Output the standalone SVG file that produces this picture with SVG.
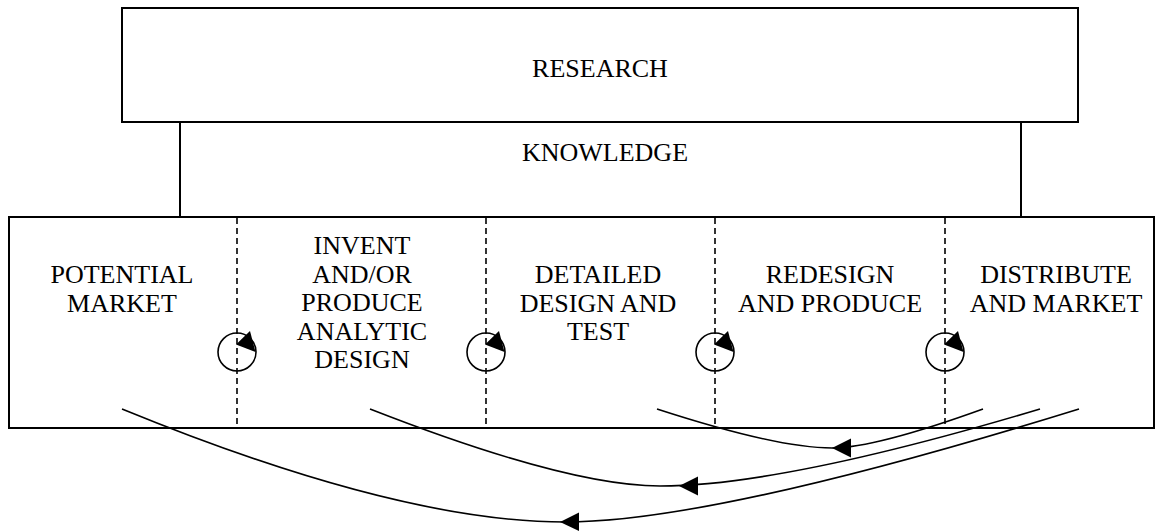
<svg xmlns="http://www.w3.org/2000/svg" width="1160" height="531" viewBox="0 0 1160 531">
<style>
.box{fill:#fff;stroke:#000;stroke-width:2}
.dash{stroke:#000;stroke-width:1.6;stroke-dasharray:6 4;fill:none}
.circ{fill:none;stroke:#000;stroke-width:1.6}
.curve{fill:none;stroke:#000;stroke-width:1.6}
.head{fill:#000;stroke:none}
text{font-family:"Liberation Serif","Times New Roman",serif;font-size:26px;fill:#000;text-anchor:middle}
</style>
<rect width="1160" height="531" fill="#fff"/>
<g id="research"><rect class="box" x="122" y="8" width="956" height="114"/><text x="600" y="77">RESEARCH</text></g>
<g id="knowledge"><rect class="box" x="180" y="122" width="841" height="95"/><text x="605" y="161">KNOWLEDGE</text></g>
<g id="process"><rect class="box" x="9" y="217" width="1145" height="211"/></g>
<g id="dividers">
<line class="dash" x1="237" y1="218" x2="237" y2="428"/>
<line class="dash" x1="486" y1="218" x2="486" y2="428"/>
<line class="dash" x1="715" y1="218" x2="715" y2="428"/>
<line class="dash" x1="945" y1="218" x2="945" y2="428"/>
</g>
<g id="potential-market"><text x="122" y="283">POTENTIAL</text><text x="122" y="312">MARKET</text></g>
<g id="invent"><text x="362" y="254">INVENT</text><text x="362" y="283">AND/OR</text><text x="362" y="311">PRODUCE</text><text x="362" y="340">ANALYTIC</text><text x="362" y="368">DESIGN</text></g>
<g id="detailed"><text x="598" y="283">DETAILED</text><text x="598" y="312">DESIGN AND</text><text x="598" y="340">TEST</text></g>
<g id="redesign"><text x="830" y="283">REDESIGN</text><text x="830" y="312">AND PRODUCE</text></g>
<g id="distribute"><text x="1056" y="283">DISTRIBUTE</text><text x="1056" y="312">AND MARKET</text></g>
<g id="cycles">
<g transform="translate(237,352)"><circle class="circ" r="19"/><polygon class="head" points="-1,-7.5 13,-21 18.5,0"/></g>
<g transform="translate(486,352)"><circle class="circ" r="19"/><polygon class="head" points="-1,-7.5 13,-21 18.5,0"/></g>
<g transform="translate(715,352)"><circle class="circ" r="19"/><polygon class="head" points="-1,-7.5 13,-21 18.5,0"/></g>
<g transform="translate(945,352)"><circle class="circ" r="19"/><polygon class="head" points="-1,-7.5 13,-21 18.5,0"/></g>
</g>
<g id="connectors">
<path class="curve" d="M657,409 Q777,448 832,448 Q875,448 983,409"/>
<polygon class="head" points="832,448 851,438.5 851,457.5"/>
<path class="curve" d="M370,409 Q567,486 660,486 Q783,486 1040,409"/>
<polygon class="head" points="679,486 698,476.5 698,495.5"/>
<path class="curve" d="M122,409 Q398,522 565,522 Q714,522 1079,409"/>
<polygon class="head" points="560,522 579,512.5 579,531"/>
</g>
</svg>
